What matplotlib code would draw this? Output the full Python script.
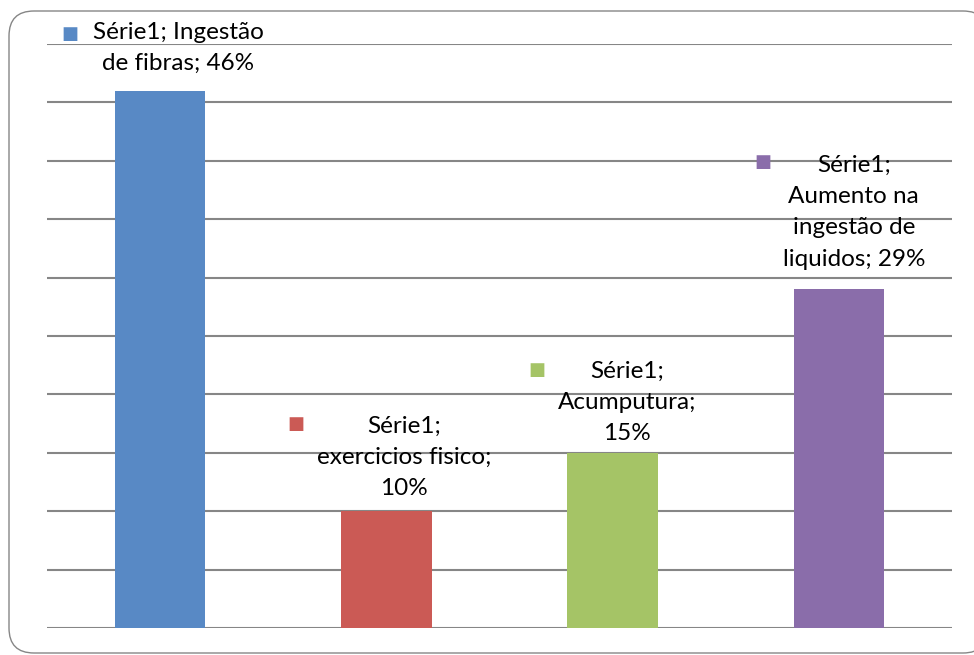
import matplotlib.pyplot as plt
from matplotlib.patches import FancyBboxPatch
from matplotlib.transforms import IdentityTransform

# Data
categories = ["Ingestão de fibras", "exercicios fisico", "Acumputura",
              "Aumento na ingestão de liquidos"]
values = [46, 10, 15, 29]
labels = ["Série1; Ingestão\nde fibras; 46%",
          "Série1;\nexercicios fisico;\n10%",
          "Série1;\nAcumputura;\n15%",
          "Série1;\nAumento na\ningestão de\nliquidos; 29%"]
colors = ["#5889C5", "#CB5A55", "#A5C466", "#8A6DAA"]

# label layout (pixel offsets from bar top)
text_offsets = [(18, 43), (18, 54), (14, 50), (15, 77)]
key_offsets = [(-90, 57), (-91, 87), (-76, 83), (-76, 127)]

W, H = 974, 655
fig = plt.figure(figsize=(W / 100, H / 100), dpi=100)

# rounded chart border in pixels; right edge runs off the image.
# filled face so Agg doesn't clip the outline to the canvas edge
border = FancyBboxPatch((9, 2), 979, 642,
                        boxstyle="round,pad=0,rounding_size=25",
                        transform=IdentityTransform(), facecolor="white",
                        edgecolor="#868686", linewidth=1.0, clip_on=False,
                        zorder=0)
fig.patches.append(border)

ax = fig.add_axes([47 / W, 27 / H, 905 / W, 584 / H])
ax.set_zorder(2)
ax.patch.set_alpha(0)

x = range(len(values))
ax.bar(x, values, width=0.4, color=colors, zorder=3)

ax.set_xlim(-0.5, len(values) - 0.5)
ax.set_ylim(0, 50)
ax.set_yticks(range(0, 51, 5))
ax.set_xticks([])
ax.tick_params(left=False, labelleft=False)
ax.grid(axis="y", color="#868686", linewidth=1.5, zorder=0)
for s in ax.spines.values():
    s.set_visible(False)

for i, v in enumerate(values):
    ax.annotate(labels[i], xy=(i, v), xytext=text_offsets[i],
                textcoords="offset pixels", ha="center", va="center",
                multialignment="center", fontsize=17.5, family="Lato",
                linespacing=1.6, zorder=5)
    ax.annotate("■", xy=(i, v), xytext=key_offsets[i],
                textcoords="offset pixels", ha="center", va="center",
                fontsize=13, color=colors[i], family="DejaVu Sans", zorder=5)

fig.savefig("out.png", dpi=100)
